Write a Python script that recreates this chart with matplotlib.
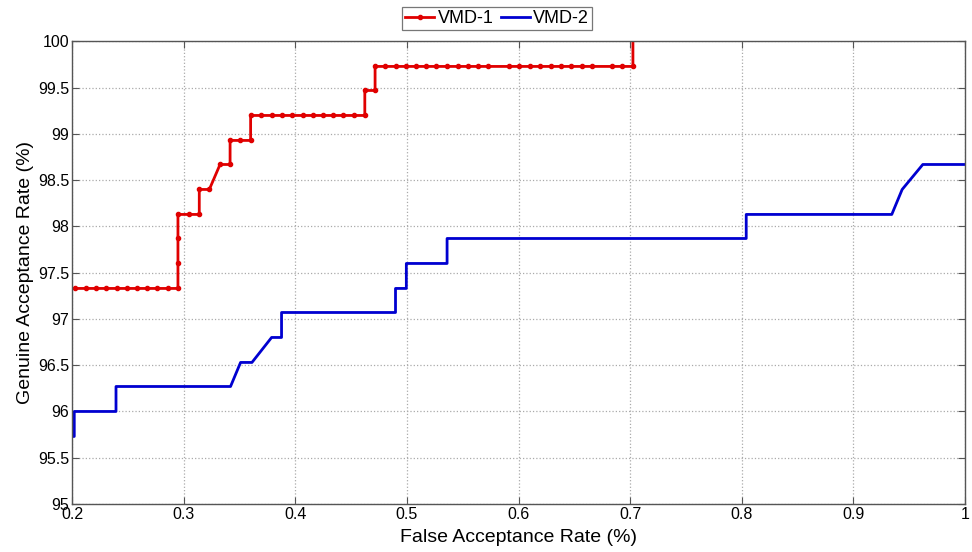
import matplotlib.pyplot as plt
from matplotlib.ticker import FormatStrFormatter
import numpy as np

plt.rcParams['font.family'] = ['Liberation Sans', 'DejaVu Sans']

# VMD-1 (red, with markers)
far_1 = [0.2027, 0.2123, 0.2212, 0.2304, 0.2400, 0.2490, 0.2582, 0.2674, 0.2764, 0.2857,
         0.2949, 0.2949, 0.2949, 0.2949, 0.3049, 0.3140, 0.3140, 0.3230, 0.3326, 0.3416,
         0.3416, 0.3505, 0.3600, 0.3600, 0.3692, 0.3788, 0.3877, 0.3972, 0.4065, 0.4160,
         0.4250, 0.4340, 0.4432, 0.4525, 0.4623, 0.4623, 0.4715, 0.4715, 0.4805, 0.4898,
         0.4990, 0.5086, 0.5175, 0.5265, 0.5360, 0.5458, 0.5548, 0.5638, 0.5729, 0.5915,
         0.6005, 0.6100, 0.6193, 0.6288, 0.6380, 0.6474, 0.6566, 0.6660, 0.6841, 0.6930,
         0.7025, 0.7025]
gar_1 = [97.33, 97.33, 97.33, 97.33, 97.33, 97.33, 97.33, 97.33, 97.33, 97.33,
         97.33, 97.60, 97.87, 98.13, 98.13, 98.13, 98.40, 98.40, 98.67, 98.67,
         98.93, 98.93, 98.93, 99.20, 99.20, 99.20, 99.20, 99.20, 99.20, 99.20,
         99.20, 99.20, 99.20, 99.20, 99.20, 99.47, 99.47, 99.73, 99.73, 99.73,
         99.73, 99.73, 99.73, 99.73, 99.73, 99.73, 99.73, 99.73, 99.73, 99.73,
         99.73, 99.73, 99.73, 99.73, 99.73, 99.73, 99.73, 99.73, 99.73, 99.73,
         99.73, 100.0]

# VMD-2 (blue)
far_2 = [0.2, 0.202, 0.202, 0.2394, 0.2394, 0.342, 0.351, 0.3612, 0.3788, 0.3877,
         0.3877, 0.4898, 0.4898, 0.4995, 0.4995, 0.536, 0.536, 0.804, 0.804, 0.9344,
         0.9437, 0.9622, 1.0]
gar_2 = [95.73, 95.73, 96.00, 96.00, 96.27, 96.27, 96.53, 96.53, 96.80, 96.80,
         97.07, 97.07, 97.33, 97.33, 97.60, 97.60, 97.87, 97.87, 98.13, 98.13,
         98.40, 98.67, 98.67]

fig = plt.figure(figsize=(9.72, 5.52), dpi=100)
ax = fig.add_axes([0.0741, 0.087, 0.9187, 0.8379])

ax.plot(far_1, gar_1, color='#e00000', lw=2.0, marker='.', ms=6,
        markevery=list(range(len(far_1) - 1)), label='VMD-1')
ax.plot(far_2, gar_2, color='#0000d0', lw=2.0, label='VMD-2')

ax.set_xlim(0.2, 1.0)
ax.set_ylim(95, 100)
ax.set_xticks(np.arange(0.2, 1.01, 0.1))
ax.set_yticks(np.arange(95, 100.01, 0.5))
ax.xaxis.set_major_formatter(FormatStrFormatter('%g'))
ax.yaxis.set_major_formatter(FormatStrFormatter('%g'))
ax.tick_params(direction='in', top=True, right=True, labelsize=11.5,
               length=5, color='#555555', pad=2)
for s in ax.spines.values():
    s.set_color('#555555')
    s.set_linewidth(1.0)
ax.grid(True, ls=':', color='#aaaaaa', lw=0.9)

ax.set_xlabel('False Acceptance Rate (%)', fontsize=14, labelpad=5)
ax.set_ylabel('Genuine Acceptance Rate (%)', fontsize=14, labelpad=3)

leg = ax.legend(loc='lower center', bbox_to_anchor=(0.476, 1.025), ncol=2,
                fontsize=13, frameon=True, fancybox=False, handlelength=1.6,
                handletextpad=0.2, columnspacing=0.4, borderpad=0.15,
                borderaxespad=0.0)
leg.get_frame().set_edgecolor('#555555')
leg.get_frame().set_linewidth(0.9)

fig.savefig('out.png', dpi=100)
